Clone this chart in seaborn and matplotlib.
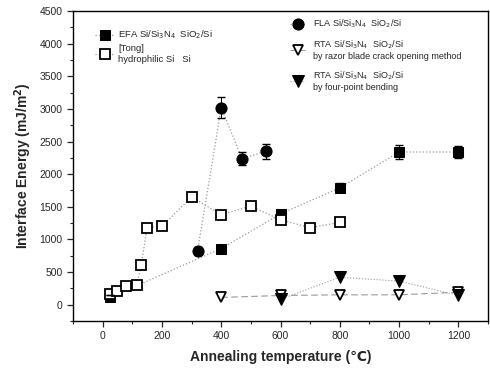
import matplotlib

matplotlib.use("Agg")

import matplotlib.pyplot as plt
import numpy as np
import pandas as pd
import seaborn as sns
from matplotlib.ticker import MultipleLocator

# EFA Si/Si3N4 SiO2/Si (filled squares)
efa_temp = [25, 25, 400, 600, 800, 1000, 1200]
efa_energy = [70, 150, 860, 1390, 1790, 2340, 2340]
efa_err = [0, 0, 0, 0, 70, 100, 90]

# [Tong] hydrophilic Si/Si (open squares)
tong_temp = [25, 50, 80, 115, 130, 150, 200, 300, 400, 500, 600, 700, 800]
tong_energy = [160, 210, 290, 300, 610, 1180, 1200, 1650, 1380, 1510, 1300, 1180, 1260]

# FLA Si/Si3N4 SiO2/Si (filled circles)
fla_temp = [320, 400, 470, 550]
fla_energy = [820, 3020, 2240, 2350]
fla_err = [60, 160, 100, 110]

# RTA, razor blade crack opening (open triangles)
rta_razor_temp = [400, 600, 800, 1000, 1200]
rta_razor_energy = [110, 140, 150, 150, 190]

# RTA, four-point bending (filled triangles)
rta_bend_temp = [600, 800, 1000, 1200]
rta_bend_energy = [80, 420, 360, 140]

sns.set_theme(style="ticks")
plt.rcParams["font.family"] = ["Liberation Sans", "DejaVu Sans"]

fig = plt.figure(figsize=(4.9, 3.71), dpi=100)
ax = fig.add_axes([0.149, 0.135, 0.847, 0.835])

gray = "#9a9a9a"

h_efa = sns.lineplot(x=efa_temp, y=efa_energy, ax=ax, sort=False, color=gray,
                     linestyle=":", lw=0.9, marker="s", markersize=7,
                     markerfacecolor="black", markeredgecolor="black", label="efa")
h_tong = sns.lineplot(x=tong_temp, y=tong_energy, ax=ax, sort=False, color=gray,
                      linestyle=":", lw=0.9, marker="s", markersize=7.5,
                      markerfacecolor="white", markeredgecolor="black",
                      markeredgewidth=1.3, label="tong")
sns.lineplot(x=fla_temp, y=fla_energy, ax=ax, sort=False, color=gray,
             linestyle=":", lw=0.9, marker="o", markersize=8,
             markerfacecolor="black", markeredgecolor="black", label="fla")
sns.lineplot(x=rta_razor_temp, y=rta_razor_energy, ax=ax, sort=False, color=gray,
             linestyle=(0, (6, 3)), lw=0.8, marker="v", markersize=7,
             markerfacecolor="white", markeredgecolor="black",
             markeredgewidth=1.3, label="razor")
sns.lineplot(x=rta_bend_temp, y=rta_bend_energy, ax=ax, sort=False, color=gray,
             linestyle=":", lw=0.8, marker="v", markersize=8,
             markerfacecolor="black", markeredgecolor="black", label="bend")

ax.errorbar(fla_temp, fla_energy, yerr=fla_err, fmt="none", ecolor="black",
            elinewidth=0.7, capsize=3)
ax.errorbar(efa_temp, efa_energy, yerr=efa_err, fmt="none", ecolor="black",
            elinewidth=0.7, capsize=3)

handles, _ = ax.get_legend_handles_labels()
ax.get_legend().remove()

leg1 = ax.legend(handles[:2],
                 ["EFA Si/Si$_3$N$_4$  SiO$_2$/Si", "[Tong]\nhydrophilic Si   Si"],
                 loc="upper left", bbox_to_anchor=(0.045, 0.955), frameon=False,
                 fontsize=6.8, handlelength=2.0, handletextpad=0.4,
                 labelspacing=0.3, borderaxespad=0)
ax.add_artist(leg1)
ax.legend(handles[2:],
          ["FLA Si/Si$_3$N$_4$  SiO$_2$/Si",
           "RTA Si/Si$_3$N$_4$  SiO$_2$/Si\nby razor blade crack opening method",
           "RTA Si/Si$_3$N$_4$  SiO$_2$/Si\nby four-point bending"],
          loc="upper left", bbox_to_anchor=(0.515, 0.99), frameon=False,
          fontsize=6.5, handlelength=1.6, handletextpad=0.9,
          labelspacing=0.9, borderaxespad=0)

ax.set_xlim(-100, 1300)
ax.set_ylim(-250, 4500)
ax.xaxis.set_major_locator(MultipleLocator(200))
ax.xaxis.set_minor_locator(MultipleLocator(100))
ax.yaxis.set_major_locator(MultipleLocator(500))
ax.yaxis.set_minor_locator(MultipleLocator(250))
ax.tick_params(which="major", length=4, width=0.9, labelsize=7.5, direction="out")
ax.tick_params(which="minor", length=2.5, width=0.8, direction="out")
for s in ax.spines.values():
    s.set_linewidth(1.0)
    s.set_color("black")

ax.set_xlabel("Annealing temperature (℃)", fontsize=10, fontweight="bold", labelpad=6)
ax.set_ylabel("Interface Energy (mJ/m$^\\mathbf{2}$)", fontsize=10, fontweight="bold", labelpad=4)

fig.savefig("out.png", dpi=100)
